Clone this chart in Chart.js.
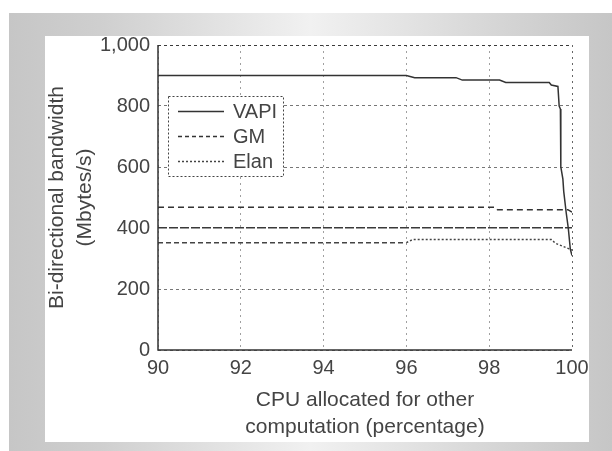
<!DOCTYPE html>
<html>
<head>
<meta charset="utf-8">
<script src="https://cdn.jsdelivr.net/npm/chart.js@4"></script>
<style>
  body { margin: 0; background: #fff; }
  canvas { display: block; }
</style>
</head>
<body>
<canvas id="myChart" width="612" height="451"></canvas>
<script>
// values
const vapiX = [90, 96, 96.2, 97.2, 97.35, 98.25, 98.4, 99.45, 99.5, 99.66, 99.69, 99.72, 99.73, 99.78, 99.8, 99.86, 99.91, 99.96, 100];
const vapiY = [900, 900, 893, 893, 885, 885, 877, 877, 869, 864, 800, 790, 600, 560, 520, 450, 400, 330, 310];
const gmX = [90, 98.15, 98.2, 99.9, 100];
const gmY = [468, 468, 460, 460, 452];
const elanX = [90, 96, 96.15, 99.5, 99.6, 100];
const elanY = [352, 352, 362, 362, 350, 328];
const xTicks = [90, 92, 94, 96, 98, 100];
const yTicks = [0, 200, 400, 600, 800, 1000];

const FONT = "'Liberation Sans', Arial, sans-serif";
const INK = '#444';

function toPoints(xs, ys) {
    return xs.map((x, i) => ({x: x, y: ys[i]}));
}

// grey frame + white panel behind the chart
const backdrop = {
    id: 'backdrop',
    beforeDraw(chart) {
        let ctx = chart.ctx;
        ctx.save();
        ctx.fillStyle = '#fff';
        ctx.fillRect(0, 0, 612, 451);
        let g = ctx.createLinearGradient(9, 0, 612, 0);
        g.addColorStop(0, '#c6c6c6');
        g.addColorStop(0.15, '#cfcfcf');
        g.addColorStop(0.5, '#f1f1f1');
        g.addColorStop(0.85, '#d2d2d2');
        g.addColorStop(1, '#c6c6c6');
        ctx.fillStyle = g;
        ctx.fillRect(9, 13, 603, 438);
        ctx.fillStyle = '#fff';
        ctx.fillRect(45, 36, 544, 406);
        ctx.restore();
    }
};

// solid left / bottom axis lines
const axisLines = {
    id: 'axisLines',
    afterDatasetsDraw(chart) {
        let a = chart.chartArea;
        let ctx = chart.ctx;
        ctx.save();
        ctx.strokeStyle = '#333';
        ctx.lineWidth = 1.5;
        ctx.setLineDash([]);
        ctx.beginPath();
        ctx.moveTo(a.left, a.top);
        ctx.lineTo(a.left, a.bottom);
        ctx.lineTo(a.right, a.bottom);
        ctx.stroke();
        ctx.restore();
    }
};

// boxed legend inside the plot, like the original figure
const boxLegend = {
    id: 'boxLegend',
    afterDraw(chart) {
        let ctx = chart.ctx;
        let sets = chart.data.datasets;
        ctx.save();
        ctx.fillStyle = '#fff';
        ctx.fillRect(168, 96, 116, 81);
        ctx.strokeStyle = '#444';
        ctx.lineWidth = 1;
        ctx.setLineDash([2, 2]);
        ctx.strokeRect(168.5, 96.5, 115, 80);
        sets.forEach((ds, i) => {
            let y = 111.5 + i * 25;
            ctx.strokeStyle = ds.borderColor;
            ctx.lineWidth = ds.borderWidth;
            ctx.setLineDash(ds.legendDash);
            ctx.beginPath();
            ctx.moveTo(178, y);
            ctx.lineTo(224, y);
            ctx.stroke();
            ctx.fillStyle = INK;
            ctx.font = '20px ' + FONT;
            ctx.textBaseline = 'middle';
            ctx.fillText(ds.label, 233, y + 1);
        });
        ctx.restore();
    }
};

new Chart('myChart', {
    type: 'line',
    data: {
        datasets: [{
            label: 'VAPI',
            data: toPoints(vapiX, vapiY),
            borderColor: '#333',
            borderWidth: 1.5,
            legendDash: [],
            pointRadius: 0,
            fill: false
        }, {
            label: 'GM',
            data: toPoints(gmX, gmY),
            borderColor: '#333',
            borderWidth: 1.5,
            borderDash: [6, 4],
            legendDash: [4, 3],
            pointRadius: 0,
            fill: false
        }, {
            label: 'Elan',
            data: toPoints(elanX, elanY),
            borderColor: '#444',
            borderWidth: 1.5,
            borderDash: [2, 2],
            legendDash: [2, 2],
            segment: {
                borderDash: ctx => ctx.p1.parsed.x <= 96 ? [5, 3] : [2, 2]
            },
            pointRadius: 0,
            fill: false
        }]
    },
    options: {
        responsive: false,
        animation: false,
        devicePixelRatio: 1,
        layout: {padding: {left: 42, top: 45, right: 40, bottom: 9}},
        plugins: {
            legend: {display: false},
            tooltip: {enabled: false}
        },
        scales: {
            x: {
                type: 'linear',
                min: 90,
                max: 100,
                afterBuildTicks: s => { s.ticks = xTicks.map(v => ({value: v})); },
                afterFit: s => { s.height = 92; },
                ticks: {
                    color: INK,
                    padding: 6,
                    maxRotation: 0,
                    font: {family: FONT, size: 20}
                },
                grid: {
                    drawTicks: false,
                    color: ctx => ctx.tick && ctx.tick.value === 100 ? '#666' : '#a0a0a0',
                    lineWidth: 1,
                    borderDash: [2, 4]
                },
                border: {display: false, dash: [2, 4]},
                title: {
                    display: true,
                    text: ['CPU allocated for other', 'computation (percentage)'],
                    color: INK,
                    padding: {top: 0, bottom: 1.5},
                    font: {family: FONT, size: 21, lineHeight: 27 / 21}
                }
            },
            y: {
                min: 0,
                max: 1000,
                afterBuildTicks: s => { s.ticks = yTicks.map(v => ({value: v})); },
                afterFit: s => { s.width = 116; },
                ticks: {
                    color: INK,
                    padding: 8,
                    font: {family: FONT, size: 20},
                    callback: v => v.toLocaleString('en-US')
                },
                grid: {
                    drawTicks: false,
                    color: ctx => {
                        let v = ctx.tick ? ctx.tick.value : 0;
                        return (v === 400 || v === 1000) ? '#3a3a3a' : '#777';
                    },
                    lineWidth: ctx => (ctx.tick && ctx.tick.value === 400) ? 1.5 : 1,
                    borderDash: [3, 3]
                },
                border: {
                    display: false,
                    dash: ctx => (ctx.tick && ctx.tick.value === 400) ? [9, 2] : [3, 3]
                },
                title: {
                    display: true,
                    text: ['Bi-directional bandwidth', '(Mbytes/s)'],
                    color: INK,
                    padding: {top: 1, bottom: 0},
                    font: {family: FONT, size: 21, lineHeight: 28 / 21}
                }
            }
        }
    },
    plugins: [backdrop, axisLines, boxLegend]
});
</script>
</body>
</html>
